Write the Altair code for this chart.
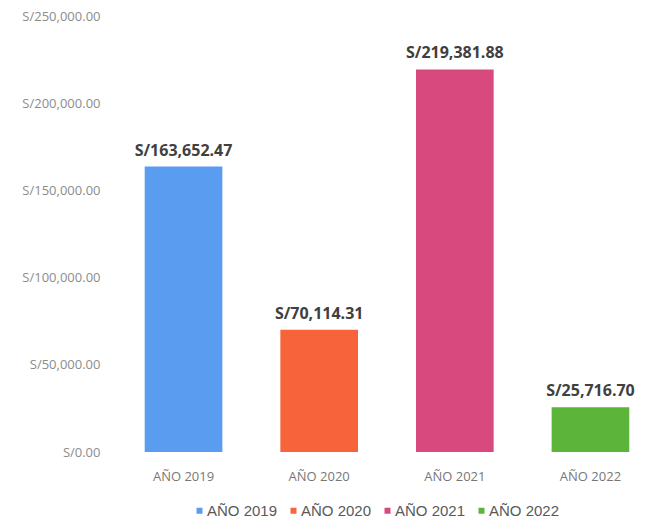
import altair as alt
import pandas as pd

years = ["AÑO 2019", "AÑO 2020", "AÑO 2021", "AÑO 2022"]
values = [163652.47, 70114.31, 219381.88, 25716.70]
colors = ["#5a9cf0", "#f7643c", "#d84a7e", "#5db43a"]
y_ticks = [0, 50000, 100000, 150000, 200000, 250000]

df = pd.DataFrame({
    "year": years,
    "value": values,
    "label": ["S/" + f"{v:,.2f}" for v in values],
})

x_enc = alt.X(
    "year:N", sort=years,
    scale=alt.Scale(paddingInner=0.4275, paddingOuter=0.02),
    axis=alt.Axis(title=None, labelAngle=0, domain=False, ticks=False,
                  labelPadding=18, labelFontSize=13, labelColor="#777777",
                  labelFont="Open Sans"),
)

bars = alt.Chart(df).mark_bar().encode(
    x=x_enc,
    y=alt.Y(
        "value:Q",
        scale=alt.Scale(domain=[0, 250000], nice=False),
        axis=alt.Axis(title=None, values=y_ticks, grid=False, domain=False,
                      ticks=False, labelPadding=42, labelFontSize=13,
                      labelColor="#8c8c8c", labelFont="Open Sans",
                      labelExpr="'S/' + format(datum.value, ',.2f')"),
    ),
    color=alt.Color(
        "year:N",
        scale=alt.Scale(domain=years, range=colors),
        legend=alt.Legend(
            title=None, orient="none", legendX=50, legendY=487,
            direction="horizontal", columns=4, symbolType="square",
            symbolSize=36, symbolStrokeWidth=0, labelFontSize=15,
            labelFont="Liberation Sans", labelColor="#595959",
            columnPadding=8, labelOffset=0,
        ),
    ),
)

text = alt.Chart(df).mark_text(
    dy=-8, baseline="bottom", font="Open Sans", fontWeight="bold",
    fontSize=16, color="#404040",
).encode(
    x=alt.X("year:N", sort=years),
    y=alt.Y("value:Q"),
    text="label:N",
)

chart = alt.layer(bars, text).properties(
    width=490, height=436,
    autosize="none",
    padding={"left": 134, "top": 8, "right": 6, "bottom": 70},
    background="white",
).configure_view(strokeWidth=0)

chart.save("out.html", embed_options={"renderer": "svg", "actions": False})
